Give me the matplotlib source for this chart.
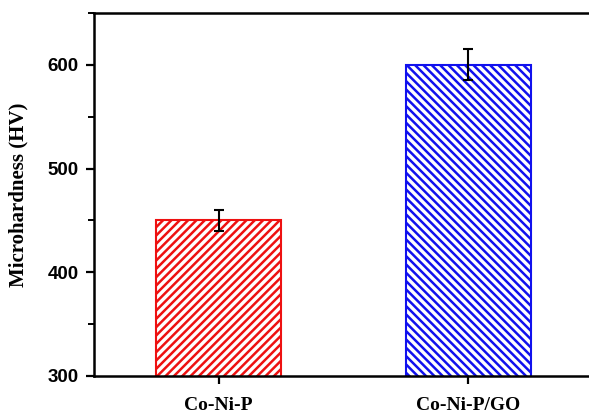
import matplotlib
matplotlib.use('Agg')
import matplotlib.pyplot as plt
from matplotlib.ticker import MultipleLocator

# Data
samples = ['Co-Ni-P', 'Co-Ni-P/GO']
hardness = [450, 600]
errors = [10, 15]
edge_colors = ['#ee1111', '#1111ee']
hatches = ['////', '\\\\\\\\']

plt.rcParams['font.family'] = ['Liberation Serif', 'DejaVu Serif']
plt.rcParams['font.weight'] = 'bold'
plt.rcParams['hatch.linewidth'] = 1.8

fig = plt.figure(figsize=(5.89, 4.15), dpi=100)
ax = fig.add_axes([0.1596, 0.094, 0.847, 0.8747])

x = range(len(samples))
for i in x:
    ax.bar(i, hardness[i], width=0.5, bottom=0, color='white',
           edgecolor=edge_colors[i], hatch=hatches[i], linewidth=1.5)
ax.errorbar(list(x), hardness, yerr=errors, fmt='none', ecolor='black',
            elinewidth=1.5, capsize=3.3, capthick=1.5)

ax.set_xlim(-0.5, 1.5)
ax.set_ylim(300, 650)
ax.set_xticks(list(x))
ax.set_xticklabels(samples, fontsize=14, fontweight='bold')
ax.yaxis.set_major_locator(MultipleLocator(100))
ax.yaxis.set_minor_locator(MultipleLocator(50))
for lbl in ax.get_yticklabels():
    lbl.set_family(['Liberation Sans', 'DejaVu Sans'])
    lbl.set_fontsize(13.5)
    lbl.set_fontweight('bold')
ax.set_ylabel('Microhardness (HV)', fontsize=15, fontweight='bold', labelpad=14)

for s in ax.spines.values():
    s.set_linewidth(1.8)
ax.tick_params(axis='both', which='major', direction='out', length=6, width=1.6)
ax.tick_params(axis='y', which='minor', direction='out', length=4, width=1.4)
ax.tick_params(axis='x', pad=9)
ax.tick_params(axis='y', pad=5)

plt.savefig('out.png', dpi=100)
plt.close()
